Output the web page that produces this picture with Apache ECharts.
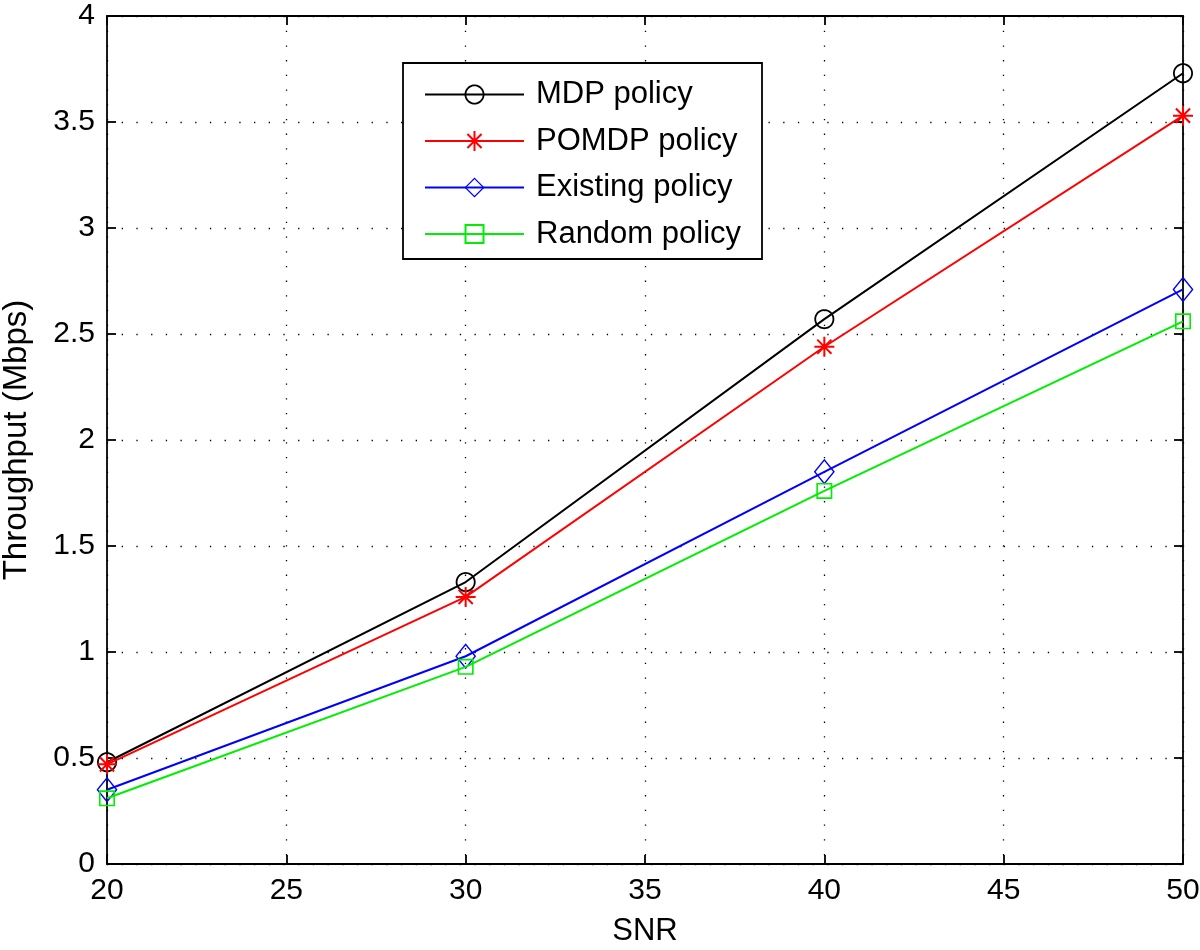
<!DOCTYPE html>
<html>
<head>
<meta charset="utf-8">
<script src="https://cdn.jsdelivr.net/npm/echarts@6/dist/echarts.min.js"></script>
<style>
html,body{margin:0;padding:0;background:#fff;}
#chart{width:1200px;height:950px;}
</style>
</head>
<body>
<div id="chart"></div>
<script>
// ---- data ----
const snr = [20, 30, 40, 50];
const mdpPolicy = [0.48, 1.33, 2.57, 3.73];
const pomdpPolicy = [0.47, 1.26, 2.44, 3.53];
const existingPolicy = [0.35, 0.98, 1.85, 2.71];
const randomPolicy = [0.31, 0.93, 1.76, 2.56];
const seriesNames = ['MDP policy', 'POMDP policy', 'Existing policy', 'Random policy'];
const xTicks = [20, 25, 30, 35, 40, 45, 50];
const yTicks = [0, 0.5, 1, 1.5, 2, 2.5, 3, 3.5, 4];

// ---- marker shapes (hollow outlines drawn as filled rings) ----
function poly(pts) {
  return 'M' + pts.map(p => p[0].toFixed(3) + ',' + p[1].toFixed(3)).join('L') + 'Z';
}
function ringCircle(r, t) {
  const n = 48, outer = [], inner = [];
  for (let i = 0; i < n; i++) {
    const a = 2 * Math.PI * i / n;
    outer.push([r * Math.cos(a), r * Math.sin(a)]);
    inner.push([(r - t) * Math.cos(-a), (r - t) * Math.sin(-a)]);
  }
  return 'path://' + poly(outer) + poly(inner);
}
function ringDiamond(w, h, t) {
  const o = [[0, -h], [w, 0], [0, h], [-w, 0]];
  const k = 1 - t / w;
  const i = [[0, -h * k], [-w * k, 0], [0, h * k], [w * k, 0]];
  return 'path://' + poly(o) + poly(i);
}
function ringSquare(s, t) {
  const o = [[-s, -s], [s, -s], [s, s], [-s, s]];
  const q = s - t;
  const i = [[-q, -q], [-q, q], [q, q], [q, -q]];
  return 'path://' + poly(o) + poly(i);
}
function asterisk(L, t) {
  let d = '';
  [0, 45, 90, 135].forEach(deg => {
    const a = deg * Math.PI / 180;
    const dx = Math.cos(a), dy = Math.sin(a), nx = -dy, ny = dx;
    d += poly([
      [L * dx + t * nx, L * dy + t * ny],
      [L * dx - t * nx, L * dy - t * ny],
      [-L * dx - t * nx, -L * dy - t * ny],
      [-L * dx + t * nx, -L * dy + t * ny]
    ]);
  });
  return 'path://' + d;
}

const markers = [
  { symbol: ringCircle(10, 1.8), size: 20, color: '#000000' },
  { symbol: asterisk(10, 1.0), size: 20, color: '#ff0000' },
  { symbol: ringDiamond(10.5, 13, 1.8), size: [21, 26], color: '#0000ff' },
  { symbol: ringSquare(8, 1.6), size: 16, color: '#00ee00' }
];
const values = [mdpPolicy, pomdpPolicy, existingPolicy, randomPolicy];

const FONT = '"Liberation Sans", Arial, Helvetica, sans-serif';

const series = values.map((vals, k) => ({
  name: seriesNames[k],
  type: 'line',
  data: snr.map((x, i) => [x, vals[i]]),
  symbol: markers[k].symbol,
  symbolSize: markers[k].size,
  showAllSymbol: true,
  lineStyle: { color: markers[k].color, width: 2 },
  itemStyle: { color: markers[k].color },
  emphasis: { disabled: true },
  z: 2 + k
}));

const gridDotted = { show: true, lineStyle: { color: '#000', width: 1.3, type: [1.3, 13.4] } };
const axisLine = { show: true, onZero: false, lineStyle: { color: '#000', width: 1.8 } };
const tickIn = { show: true, inside: true, length: 9, lineStyle: { color: '#000', width: 1.8 } };

const option = {
  animation: false,
  backgroundColor: '#ffffff',
  grid: { left: 107, right: 17, top: 16, bottom: 86, containLabel: false, outerBoundsMode: 'none' },
  xAxis: [
    {
      type: 'value', min: 20, max: 50, interval: 5, position: 'bottom',
      name: 'SNR', nameLocation: 'middle', nameGap: 52,
      nameTextStyle: { fontFamily: FONT, fontSize: 31, color: '#000' },
      axisLine: axisLine, axisTick: tickIn,
      axisLabel: { fontFamily: FONT, fontSize: 30, color: '#000', margin: 12 },
      splitLine: gridDotted
    },
    {
      type: 'value', min: 20, max: 50, interval: 5, position: 'top',
      axisLine: axisLine, axisTick: tickIn, axisLabel: { show: false }, splitLine: { show: false }
    }
  ],
  yAxis: [
    {
      type: 'value', min: 0, max: 4, interval: 0.5, position: 'left',
      name: 'Throughput (Mbps)', nameLocation: 'middle', nameGap: 74,
      nameTextStyle: { fontFamily: FONT, fontSize: 33, color: '#000' },
      axisLine: axisLine, axisTick: tickIn,
      axisLabel: { fontFamily: FONT, fontSize: 30, color: '#000', margin: 12 },
      splitLine: gridDotted
    },
    {
      type: 'value', min: 0, max: 4, interval: 0.5, position: 'right',
      axisLine: axisLine, axisTick: tickIn, axisLabel: { show: false }, splitLine: { show: false }
    }
  ],
  graphic: [{
    type: 'rect', z: 50,
    shape: { x: 403, y: 63, width: 359, height: 196 },
    style: { fill: '#ffffff', stroke: '#000000', lineWidth: 1.8 },
    silent: true
  }],
  legend: {
    z: 60,
    orient: 'vertical',
    left: 424, top: 79,
    padding: 0,
    itemWidth: 99, itemHeight: 25, itemGap: 15.5,
    data: seriesNames,
    textStyle: { fontFamily: FONT, fontSize: 31, color: '#000', padding: [0, 0, 0, 7] },
    selectedMode: false
  },
  series: series
};

const chart = echarts.init(document.getElementById('chart'), null, { renderer: 'canvas' });
chart.setOption(option);
</script>
</body>
</html>
